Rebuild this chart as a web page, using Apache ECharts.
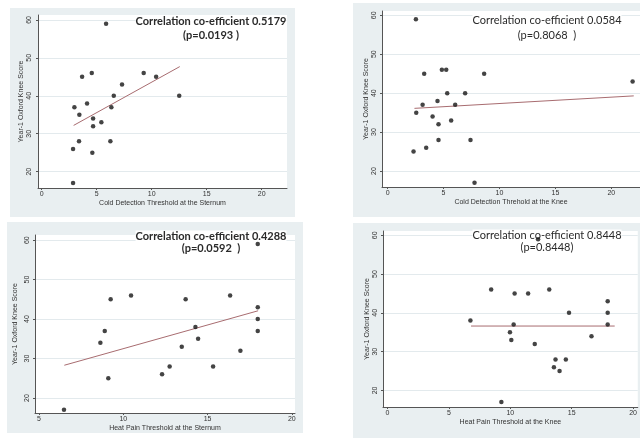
<!DOCTYPE html>
<html>
<head>
<meta charset="utf-8">
<script src="https://cdn.jsdelivr.net/npm/echarts@6/dist/echarts.min.js"></script>
<style>
  html, body { margin: 0; padding: 0; background: #fff; }
  #main { width: 640px; height: 438px; }
</style>
</head>
<body>
<div id="main"></div>
<script>
// scores (Year-1 Oxford Knee Score) against each threshold
var coldSternumX = [5.85, 4.55, 9.27, 3.67, 10.4, 7.3, 6.55, 12.5, 4.12, 2.97, 6.33, 3.42, 4.67, 5.42, 4.67, 3.39, 6.24, 2.85, 4.6, 2.85];
var coldSternumY = [59, 46, 46, 45, 45, 43, 40, 40, 38, 37, 37, 35, 34, 33, 32, 28, 28, 26, 25, 17];

var coldKneeX = [2.53, 4.85, 5.24, 3.27, 8.63, 21.9, 5.33, 6.93, 4.46, 3.13, 6.04, 2.56, 4.02, 5.68, 4.55, 4.55, 7.41, 3.45, 2.32, 7.77];
var coldKneeY = [59, 46, 46, 45, 45, 43, 40, 40, 38, 37, 37, 35, 34, 33, 32, 28, 28, 26, 25, 17];

var heatSternumX = [17.98, 10.46, 16.34, 9.25, 13.7, 17.98, 17.98, 14.28, 8.9, 17.98, 14.44, 8.64, 13.47, 16.95, 12.75, 15.33, 12.3, 9.11, 6.48];
var heatSternumY = [59, 46, 46, 45, 45, 43, 40, 38, 37, 37, 35, 34, 33, 32, 28, 28, 26, 25, 17];

var heatKneeX = [12.26, 8.44, 13.17, 10.35, 11.45, 17.93, 14.78, 17.93, 6.75, 10.27, 17.93, 9.97, 16.61, 10.08, 11.99, 13.68, 14.52, 13.55, 14.01, 9.27];
var heatKneeY = [59, 46, 46, 45, 45, 43, 40, 40, 38, 37, 37, 35, 34, 33, 32, 28, 28, 26, 25, 17];

// fitted lines (end points)
var fitColdSternumX = [2.9, 12.55], fitColdSternumY = [32.2, 47.7];
var fitColdKneeX = [2.4, 22.0], fitColdKneeY = [36.1, 39.3];
var fitHeatSternumX = [6.5, 18.0], fitHeatSternumY = [28.3, 42.1];
var fitHeatKneeX = [6.8, 18.5], fitHeatKneeY = [36.6, 36.6];

var yTicks = [20, 30, 40, 50, 60];
var xTicksFrom0 = [0, 5, 10, 15, 20];
var xTicksFrom5 = [5, 10, 15, 20];

var yTitle = 'Year-1 Oxford Knee Score';
var xTitles = [
  'Cold Detection Threshold at the Sternum',
  'Cold Detection Threhold at the Knee',
  'Heat Pain Threshold at the Sternum',
  'Heat Pain Threshold at the Knee'
];
var notes = [
  ['Correlation co-efficient 0.5179', '(p=0.0193 )'],
  ['Correlation co-efficient 0.0584', '(p=0.8068  )'],
  ['Correlation co-efficient 0.4288', '(p=0.0592  )'],
  ['Correlation co-efficient 0.8448', '(p=0.8448)']
];

function pairs(xs, ys) {
  var out = [];
  for (var i = 0; i < xs.length; i++) out.push([xs[i], ys[i]]);
  return out;
}

var panels = [
  {bg: [10, 8, 285, 209], grid: [38, 15, 249, 173], x: [-0.34, 22.3], y: [15.7, 61.3], xt: xTicksFrom0,
   pts: pairs(coldSternumX, coldSternumY), fit: pairs(fitColdSternumX, fitColdSternumY),
   note: [211, 21, 35], bold: true, yLabGap: 5, yNameGap: 13},
  {bg: [353, 3, 290, 214], grid: [382, 11, 258, 176], x: [-0.5, 22.56], y: [15.9, 61.1], xt: xTicksFrom0,
   pts: pairs(coldKneeX, coldKneeY), fit: pairs(fitColdKneeX, fitColdKneeY),
   note: [547, 20, 35], bold: false, yLabGap: 4, yNameGap: 12},
  {bg: [7, 222, 296, 211], grid: [35, 235, 260, 178], x: [4.76, 20.19], y: [16.2, 61.3], xt: xTicksFrom5,
   pts: pairs(heatSternumX, heatSternumY), fit: pairs(fitHeatSternumX, fitHeatSternumY),
   note: [211, 236, 248], bold: true, yLabGap: 4, yNameGap: 16},
  {bg: [353, 223, 290, 215], grid: [383, 231, 257, 176], x: [-0.37, 20.38], y: [15.73, 61.1], xt: xTicksFrom0,
   pts: pairs(heatKneeX, heatKneeY), fit: pairs(fitHeatKneeX, fitHeatKneeY),
   note: [547, 235, 247], bold: false, yLabGap: 4, yNameGap: 12}
];

var grids = [], xAxes = [], yAxes = [], series = [], graphics = [];
var axisCol = '#555';
var gridCol = '#e3eaed';

panels.forEach(function (p, i) {
  graphics.push({
    type: 'rect', z: -10,
    shape: {x: p.bg[0], y: p.bg[1], width: p.bg[2], height: p.bg[3]},
    style: {fill: '#e9eff1'}
  });
  grids.push({
    left: p.grid[0], top: p.grid[1], width: p.grid[2], height: p.grid[3],
    show: true, backgroundColor: '#fff', borderWidth: 0
  });
  xAxes.push({
    gridIndex: i, type: 'value', min: p.x[0], max: p.x[1],
    name: xTitles[i], nameLocation: 'middle', nameGap: 12,
    nameTextStyle: {fontFamily: 'Liberation Sans', fontSize: 7, color: '#333'},
    axisLine: {show: true, onZero: false, lineStyle: {color: axisCol, width: 1}},
    axisTick: {show: true, length: 2, customValues: p.xt, lineStyle: {color: axisCol}},
    axisLabel: {customValues: p.xt, fontFamily: 'Liberation Sans', fontSize: 7, color: '#333', margin: 3},
    splitLine: {show: false}
  });
  yAxes.push({
    gridIndex: i, type: 'value', min: p.y[0], max: p.y[1],
    name: yTitle, nameLocation: 'middle', nameGap: p.yNameGap, nameRotate: 90,
    nameTextStyle: {fontFamily: 'Liberation Sans', fontSize: 7, color: '#333'},
    axisLine: {show: true, onZero: false, lineStyle: {color: axisCol, width: 1}},
    axisTick: {show: true, length: 2, customValues: yTicks, lineStyle: {color: axisCol}},
    axisLabel: {customValues: yTicks, rotate: 90, fontFamily: 'Liberation Sans', fontSize: 7, color: '#333', margin: p.yLabGap},
    splitLine: {show: true, lineStyle: {color: gridCol, width: 1}}
  });
  series.push({
    type: 'line', xAxisIndex: i, yAxisIndex: i, data: p.fit,
    symbol: 'none', lineStyle: {color: '#a86c70', width: 1}, z: 2
  });
  series.push({
    type: 'scatter', xAxisIndex: i, yAxisIndex: i, data: p.pts,
    symbol: 'circle', symbolSize: 4.5, itemStyle: {color: '#151515'}, z: 3
  });
  var font = (p.bold ? 'bold ' : '') + '11px Lato';
  graphics.push({
    type: 'text', z: 1,
    style: {text: notes[i][0], x: p.note[0], y: p.note[1], textAlign: 'center', textVerticalAlign: 'middle',
            font: font, fill: '#2a2a2a', backgroundColor: '#fff'}
  });
  graphics.push({
    type: 'text', z: 1,
    style: {text: notes[i][1], x: p.note[0], y: p.note[2], textAlign: 'center', textVerticalAlign: 'middle',
            font: font, fill: '#2a2a2a'}
  });
});

var chart = echarts.init(document.getElementById('main'), null, {renderer: 'canvas'});
chart.setOption({
  backgroundColor: '#fff',
  animation: false,
  grid: grids,
  xAxis: xAxes,
  yAxis: yAxes,
  series: series,
  graphic: graphics
});
</script>
</body>
</html>
